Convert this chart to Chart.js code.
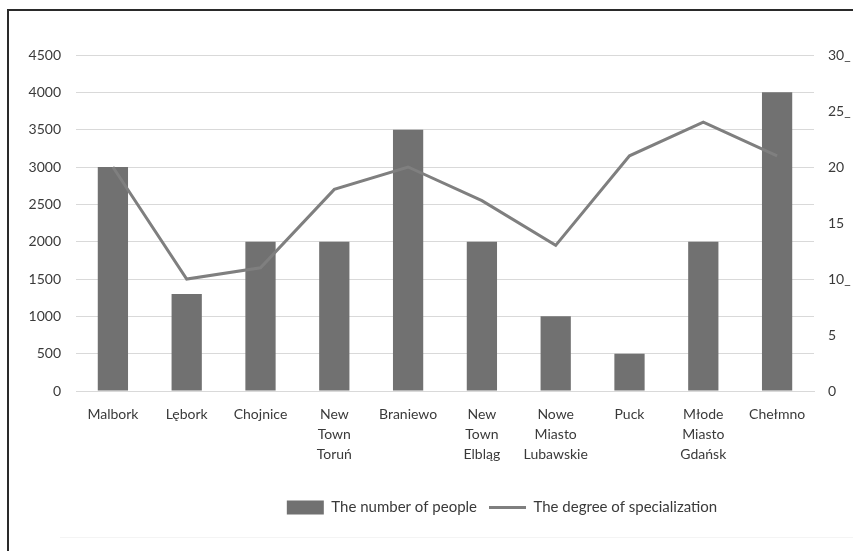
<!DOCTYPE html>
<html>
<head>
<meta charset="utf-8">
<script src="https://cdn.jsdelivr.net/npm/chart.js@4"></script>
<style>
  html, body { margin: 0; padding: 0; background: #fff; overflow: hidden; width: 853px; height: 551px; }
  #frame { position: absolute; left: 7px; top: 9px; width: 1000px; height: 600px;
           border-left: 2px solid #2a2a2a; border-top: 2px solid #2a2a2a; }
  #fade { position: absolute; left: 60px; top: 537px; width: 793px; height: 0; border-top: 1px solid #f4f4f4; }
  #wrap { position: absolute; left: 9px; top: 11px; width: 986px; height: 540px; }
</style>
</head>
<body>
<div id="frame"></div>
<div id="fade"></div>
<div id="wrap"><canvas id="chart"></canvas></div>
<script>
const towns = [
  'Malbork', 'Lębork', 'Chojnice', ['New', 'Town', 'Toruń'], 'Braniewo',
  ['New', 'Town', 'Elbląg'], ['Nowe', 'Miasto', 'Lubawskie'], 'Puck',
  ['Młode', 'Miasto', 'Gdańsk'], 'Chełmno'
];
const people = [3000, 1300, 2000, 2000, 3500, 2000, 1000, 500, 2000, 4000];
const specialization = [20, 10, 11, 18, 20, 17, 13, 21, 24, 21];
const rightTickLabels = { 0: '0', 5: '5', 10: '10_', 15: '15', 20: '20', 25: '25_', 30: '30_' };

const textColor = '#3a3a3a';
const gridColor = '#d9d9d9';
const fontFamily = 'Lato, "Open Sans", sans-serif';

new Chart(document.getElementById('chart'), {
  data: {
    labels: towns,
    datasets: [
      {
        type: 'line',
        label: 'The degree of specialization',
        data: specialization,
        borderColor: '#7f7f7f',
        backgroundColor: '#7f7f7f',
        borderWidth: 3,
        pointRadius: 0,
        tension: 0,
        yAxisID: 'yR',
        order: 1
      },
      {
        type: 'bar',
        label: 'The number of people',
        data: people,
        backgroundColor: '#717171',
        categoryPercentage: 1,
        barPercentage: 0.41,
        yAxisID: 'y',
        order: 2
      }
    ]
  },
  options: {
    responsive: true,
    maintainAspectRatio: false,
    animation: false,
    layout: { padding: { top: 44, bottom: 26, left: 0, right: 0 } },
    plugins: {
      tooltip: { enabled: false },
      legend: {
        position: 'bottom',
        labels: {
          color: textColor,
          font: { family: fontFamily, size: 15 },
          usePointStyle: true,
          pointStyleWidth: 37,
          boxHeight: 14,
          padding: 12,
          generateLabels(chart) {
            // bar first, then line, like the reference
            return [1, 0].map(i => {
              const ds = chart.data.datasets[i];
              return {
                text: ds.label,
                datasetIndex: i,
                fillStyle: ds.backgroundColor,
                strokeStyle: ds.type === 'line' ? ds.borderColor : ds.backgroundColor,
                lineWidth: ds.type === 'line' ? 3 : 0,
                pointStyle: ds.type === 'line' ? 'line' : 'rect',
                fontColor: textColor,
                hidden: false
              };
            });
          }
        }
      }
    },
    scales: {
      x: {
        grid: { display: false },
        border: { color: gridColor },
        ticks: {
          color: textColor,
          font: { family: fontFamily, size: 14, lineHeight: 1.45 },
          padding: 5,
          maxRotation: 0,
          autoSkip: false
        },
        afterFit(scale) { scale.height = 97; }
      },
      y: {
        position: 'left',
        min: 0,
        max: 4500,
        grid: { color: gridColor, drawTicks: false },
        border: { display: false },
        ticks: {
          stepSize: 500,
          color: textColor,
          font: { family: fontFamily, size: 14 },
          padding: 15,
          callback: v => String(v)
        },
        afterFit(scale) { scale.width = 67; }
      },
      yR: {
        position: 'right',
        min: 0,
        max: 30,
        grid: { drawOnChartArea: false, drawTicks: false },
        border: { display: false },
        ticks: {
          stepSize: 5,
          color: textColor,
          font: { family: fontFamily, size: 14 },
          padding: 14,
          callback: v => rightTickLabels[v] ?? String(v)
        },
        afterFit(scale) { scale.width = 181; }
      }
    }
  }
});
</script>
</body>
</html>
